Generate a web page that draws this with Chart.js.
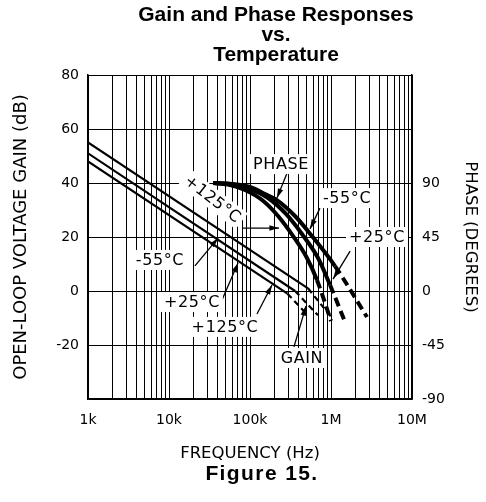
<!DOCTYPE html>
<html><head><meta charset="utf-8">
<script src="https://cdn.jsdelivr.net/npm/chart.js@4/dist/chart.umd.min.js"></script>
<style>
html,body{margin:0;padding:0;background:#fff;}
#wrap{position:relative;width:486px;height:502px;overflow:hidden;}
canvas{position:absolute;left:0;top:0;}
#title{position:absolute;left:33px;top:4px;width:486px;text-align:center;font:bold 21px/20px "Liberation Sans",Arial,sans-serif;color:#000;}
#fig{position:absolute;left:19px;top:463px;width:486px;text-align:center;font:bold 21px/20px "Liberation Sans",Arial,sans-serif;letter-spacing:1.4px;color:#000;}
</style></head><body>
<div id="wrap"><canvas id="c" width="486" height="502"></canvas>
<div id="title">Gain and Phase Responses<br>vs.<br>Temperature</div>
<div id="fig">Figure 15.</div></div>
<script>
// ---- data ----
const decadeFreqs = [1e3, 1e4, 1e5, 1e6, 1e7];
const decadeLabels = ['1k', '10k', '100k', '1M', '10M'];
const gainTicks = [-40, -20, 0, 20, 40, 60, 80];
const phaseTicks = [-90, -45, 0, 45, 90];

// gain lines (dB); dashed from index 1
const gainM55Freq = [1e3, 5.2e5, 1.03e6];
const gainM55 = [55, 1, -10];
const gain25Freq = [1e3, 3.6e5, 6.9e5];
const gain25 = [51, 0, -9];
const gain125Freq = [1e3, 2.9e5, 4.8e5];
const gain125 = [48, -1, -8];

// phase curves (degrees); last segment dashed
const phaseM55Freq = [3.5e4, 5.7e4, 1.0e5, 1.53e5, 2.04e5, 3.59e5, 5.82e5, 1.12e6, 2.78e6];
const phaseM55 = [90, 89.2, 86.7, 80.8, 76.7, 62.5, 45.8, 20.8, -21.7];
const phase25Freq = [3.5e4, 6.0e4, 9.4e4, 1.67e5, 2.78e5, 4.38e5, 6.92e5, 9.73e5, 1.49e6];
const phase25 = [90, 89.2, 85.8, 77.5, 64.2, 47.5, 27.5, 5, -25.8];
const phase125Freq = [3.5e4, 5.66e4, 8.67e4, 1.41e5, 2.22e5, 3.40e5, 5.05e5, 6.71e5, 1.0e6];
const phase125 = [90, 88.3, 84.2, 75.8, 62.5, 45.8, 27.5, 9.2, -25];

// annotations: text, centre (freq, gain), arrow from -> to (freq, gain)
const notes = [
  {t:'PHASE', f:2.41e5, g:47.0, a:[[2.87e5,43.7],[2.15e5,34.4]]},
  {t:'-55°C', f:1.58e6, g:34.4, a:[[7.31e5,30.7],[5.51e5,23.0]]},
  {t:'+25°C', f:3.70e6, g:20.0, a:[[1.72e6,14.8],[1.06e6,4.4]]},
  {t:'+125°C', f:3.49e4, g:34.1, rot:38, a:[[7.96e4,23.3],[2.28e5,23.3]]},
  {t:'-55°C', f:7.74e3, g:11.5, a:[[2.09e4,9.3],[4.03e4,19.6]]},
  {t:'+25°C', f:1.92e4, g:-4.1, a:[[4.51e4,-3.3],[7.11e4,10.4]]},
  {t:'+125°C', f:4.91e4, g:-13.3, a:[[1.22e5,-8.5],[1.87e5,2.2]]},
  {t:'GAIN', f:4.38e5, g:-24.8, a:[[3.49e5,-20.7],[4.91e5,-5.6]]}
];

// ---- build ----
const gridFreqs = [];
for (let d = 3; d < 7; d++) for (let m = 1; m < 10; m++) gridFreqs.push(m * Math.pow(10, d));
gridFreqs.push(1e7);

function pts(fs, vs) { return fs.map((f, i) => ({x: f, y: vs[i]})); }
function ds(fs, vs, dashFrom, w, dash, axis) {
  return {
    data: pts(fs, vs), yAxisID: axis, showLine: true, borderColor: '#000', borderWidth: w,
    pointRadius: 0, fill: false, borderCapStyle: 'butt',
    tension: axis === 'y2' ? 0.35 : 0, cubicInterpolationMode: axis === 'y2' ? 'monotone' : 'default',
    segment: { borderDash: c => c.p0DataIndex >= dashFrom ? dash : undefined }
  };
}
const FONT = '"DejaVu Sans", sans-serif';
Chart.defaults.color = '#000';
Chart.defaults.font.family = FONT;

const notePlugin = {
  id: 'notes',
  afterDatasetsDraw(chart) {
    const {ctx, scales: {x, y}} = chart;
    ctx.save();
    ctx.font = '16px ' + FONT;
    try { ctx.letterSpacing = '0.6px'; } catch (e) {}
    ctx.textAlign = 'center'; ctx.textBaseline = 'middle';
    notes.forEach(n => {
      const px = x.getPixelForValue(n.f), py = y.getPixelForValue(n.g);
      const p0 = [x.getPixelForValue(n.a[0][0]), y.getPixelForValue(n.a[0][1])];
      const p1 = [x.getPixelForValue(n.a[1][0]), y.getPixelForValue(n.a[1][1])];
      ctx.strokeStyle = '#000'; ctx.fillStyle = '#000'; ctx.lineWidth = 1.3;
      ctx.beginPath(); ctx.moveTo(p0[0], p0[1]); ctx.lineTo(p1[0], p1[1]); ctx.stroke();
      const ang = Math.atan2(p1[1] - p0[1], p1[0] - p0[0]);
      ctx.beginPath();
      ctx.moveTo(p1[0], p1[1]);
      ctx.lineTo(p1[0] - 10 * Math.cos(ang - 0.28), p1[1] - 10 * Math.sin(ang - 0.28));
      ctx.lineTo(p1[0] - 10 * Math.cos(ang + 0.28), p1[1] - 10 * Math.sin(ang + 0.28));
      ctx.closePath(); ctx.fill();
      ctx.save();
      ctx.translate(px, py);
      if (n.rot) ctx.rotate(n.rot * Math.PI / 180);
      const w = ctx.measureText(n.t).width;
      ctx.fillStyle = '#fff';
      ctx.fillRect(-w / 2 - 3, -10, w + 6, 20);
      ctx.fillStyle = '#000';
      ctx.fillText(n.t, 0, 1);
      ctx.restore();
    });
    ctx.restore();
  }
};

new Chart(document.getElementById('c'), {
  type: 'scatter',
  data: {
    datasets: [
      ds(gainM55Freq, gainM55, 1, 2.2, [6, 4], 'y'),
      ds(gain25Freq, gain25, 1, 2.2, [6, 4], 'y'),
      ds(gain125Freq, gain125, 1, 2.2, [6, 4], 'y'),
      ds(phaseM55Freq, phaseM55, phaseM55.length - 2, 4, [9, 5], 'y2'),
      ds(phase25Freq, phase25, phase25.length - 2, 4, [9, 5], 'y2'),
      ds(phase125Freq, phase125, phase125.length - 2, 4, [9, 5], 'y2')
    ]
  },
  options: {
    responsive: false, animation: false, devicePixelRatio: 1,
    layout: {padding: {top: 75, left: 0, right: 0, bottom: 0}},
    plugins: {legend: {display: false}, tooltip: {enabled: false}},
    scales: {
      x: {
        type: 'logarithmic', position: 'bottom', min: 1e3, max: 1e7,
        afterFit: s => { s.height = 103; },
        afterBuildTicks: s => { s.ticks = gridFreqs.map(v => ({value: v})); },
        ticks: {autoSkip: false, maxRotation: 0, padding: 13, font: {size: 14},
          callback: v => { const i = decadeFreqs.indexOf(v); return i >= 0 ? decadeLabels[i] : ''; }},
        grid: {color: '#000', lineWidth: 1, drawTicks: false},
        border: {color: '#000', width: 1.5},
        title: {display: true, text: 'FREQUENCY (Hz)', font: {size: 16.5}, padding: {top: 0, bottom: 38}}
      },
      y: {
        type: 'linear', position: 'left', min: -40, max: 80,
        afterFit: s => { s.width = 88; },
        afterBuildTicks: s => { s.ticks = gainTicks.map(v => ({value: v})); },
        ticks: {padding: 9, font: {size: 14}, callback: v => v === -40 ? '' : String(v)},
        grid: {color: '#000', lineWidth: 1, drawTicks: false},
        border: {color: '#000', width: 1.5},
        title: {display: true, text: 'OPEN-LOOP VOLTAGE GAIN (dB)', font: {size: 18}, padding: {top: 11, bottom: 0}}
      },
      y2: {
        type: 'linear', position: 'right', min: -90, max: 180,
        afterFit: s => { s.width = 74; },
        afterBuildTicks: s => { s.ticks = phaseTicks.map(v => ({value: v})); },
        ticks: {padding: 10, font: {size: 14}, callback: v => String(v)},
        grid: {drawOnChartArea: false, drawTicks: false},
        border: {color: '#000', width: 1.5},
        title: {display: true, text: 'PHASE (DEGREES)', font: {size: 16.5}, padding: {top: 6, bottom: 0}}
      }
    }
  },
  plugins: [notePlugin]
});
</script>
</body></html>
